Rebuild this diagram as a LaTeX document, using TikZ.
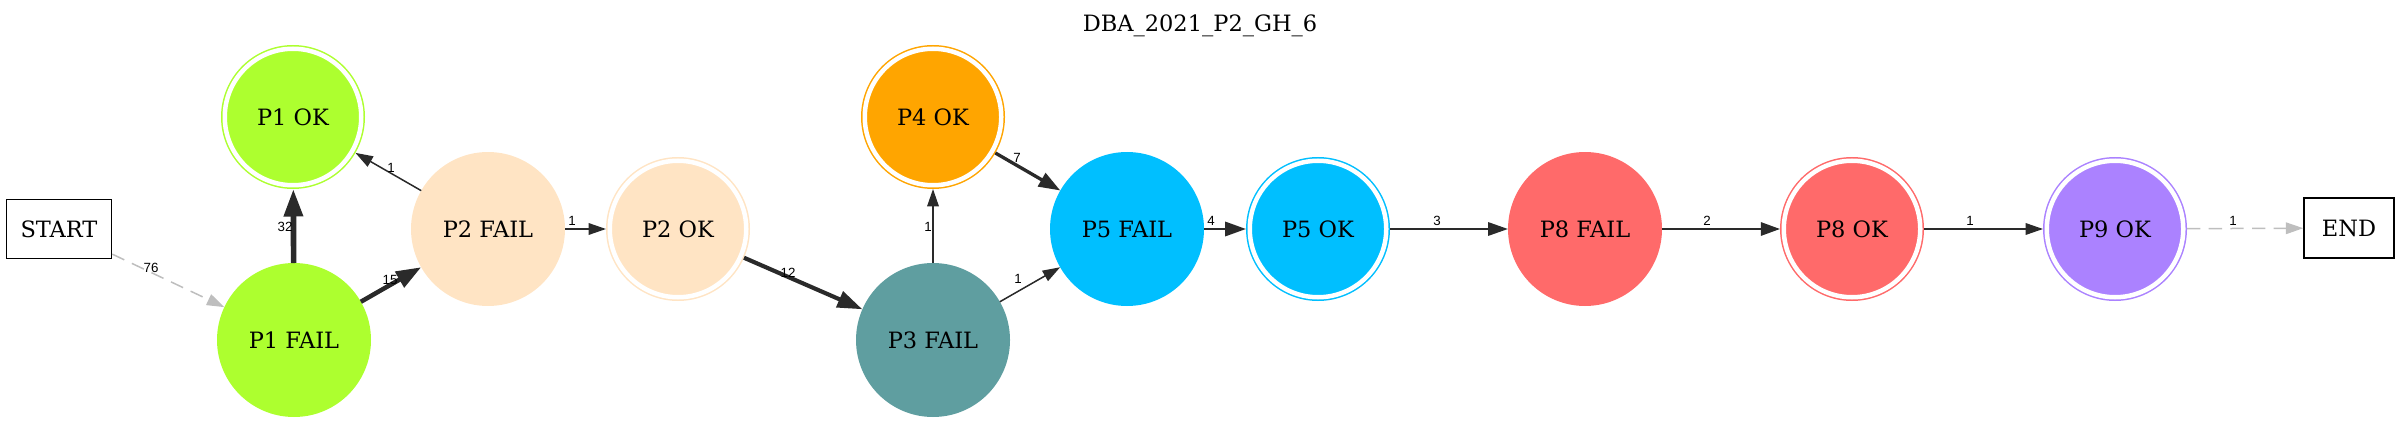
\documentclass[tikz,border=0pt]{standalone}
\usepackage{fontspec}
\setmainfont{DejaVu Serif}
\newfontfamily\lblfont{Liberation Sans}
\usetikzlibrary{arrows.meta}
\definecolor{cGreen}{HTML}{ADFF2F}
\definecolor{cBisque}{HTML}{FFE4C4}
\definecolor{cCadet}{HTML}{5F9EA0}
\definecolor{cOrange}{HTML}{FFA500}
\definecolor{cSky}{HTML}{00BFFF}
\definecolor{cRed}{HTML}{FF6A6A}
\definecolor{cPurple}{HTML}{AB82FF}
\definecolor{edgec}{HTML}{2A2A2A}
\definecolor{grayc}{HTML}{BEBEBE}
\begin{document}
\begin{tikzpicture}[x=0.6pt,y=-0.6pt,
  every node/.style={font=\fontsize{13.5pt}{16pt}\selectfont},
  failnode/.style={circle, fill=#1, draw=none, minimum size=92.4pt, inner sep=0pt, outer sep=0pt},
  oknode/.style={circle, fill=#1, draw=#1, line width=0.9pt, double=white, double distance=2.7pt, minimum size=81.9pt, inner sep=0pt, outer sep=2.25pt},
  termnode/.style={rectangle, draw=black, line width=0.9pt, inner sep=0pt},
  lbl/.style={font=\lblfont\fontsize{8pt}{9pt}\selectfont, inner sep=0pt, text=black},
  wA/.style={draw=edgec, line width=0.9pt, -{Triangle[length=10.5pt,width=7pt]}},
  wB/.style={draw=edgec, line width=1.2pt, -{Triangle[length=11.5pt,width=8pt]}},
  wC/.style={draw=edgec, line width=1.35pt, -{Triangle[length=12pt,width=8pt]}},
  wD/.style={draw=edgec, line width=1.6pt, -{Triangle[length=12.5pt,width=8.5pt]}},
  wG/.style={draw=edgec, line width=2pt, -{Triangle[length=13pt,width=9pt]}},
  wL/.style={draw=edgec, line width=2.5pt, -{Triangle[length=15pt,width=10pt]}},
  wO/.style={draw=edgec, line width=2.7pt, -{Triangle[length=15pt,width=10.5pt]}},
  wZ/.style={draw=edgec, line width=3.4pt, -{Triangle[length=16.5pt,width=11pt]}},
  grayedge/.style={draw=grayc, line width=0.9pt, dash pattern=on 8pt off 5pt, -{Triangle[length=10.5pt,width=7pt]}}
]
\useasboundingbox (0,0) rectangle (2400,424);

\node (title) at (1200,31.5) [anchor=base] {DBA\_2021\_P2\_GH\_6};

\node[termnode, minimum width=63pt, minimum height=35.4pt] (START) at (59,229) {START};
\node[termnode, minimum width=54pt, minimum height=36pt] (END) at (2349,228) {END};

\node[failnode=cGreen] (P1FAIL) at (294,340) {P1 FAIL};
\node[oknode=cGreen] (P1OK) at (293,117) {P1 OK};
\node[failnode=cBisque] (P2FAIL) at (488,229) {P2 FAIL};
\node[oknode=cBisque] (P2OK) at (678,229) {P2 OK};
\node[failnode=cCadet] (P3FAIL) at (933,340) {P3 FAIL};
\node[oknode=cOrange] (P4OK) at (933,117) {P4 OK};
\node[failnode=cSky] (P5FAIL) at (1127,229) {P5 FAIL};
\node[oknode=cSky] (P5OK) at (1318,229) {P5 OK};
\node[failnode=cRed] (P8FAIL) at (1585,229) {P8 FAIL};
\node[oknode=cRed] (P8OK) at (1852,229) {P8 OK};
\node[oknode=cPurple] (P9OK) at (2115,229) {P9 OK};

\draw[grayedge] (START) -- (P1FAIL);
\draw[wZ] (P1FAIL) -- (P1OK);
\draw[wO] (P1FAIL) -- (P2FAIL);
\draw[wA] (P2FAIL) -- (P1OK);
\draw[wA] (P2FAIL) -- (P2OK);
\draw[wL] (P2OK) -- (P3FAIL);
\draw[wA] (P3FAIL) -- (P4OK);
\draw[wG] (P4OK) -- (P5FAIL);
\draw[wA] (P3FAIL) -- (P5FAIL);
\draw[wD] (P5FAIL) -- (P5OK);
\draw[wC] (P5OK) -- (P8FAIL);
\draw[wB] (P8FAIL) -- (P8OK);
\draw[wA] (P8OK) -- (P9OK);
\draw[grayedge] (P9OK) -- (END);

\node[lbl] (l76) at (151,268) {76};
\node[lbl] (l32) at (285,227) {32};
\node[lbl] (l15) at (390,280) {15};
\node[lbl] (l1a) at (391,168) {1};
\node[lbl] (l1b) at (572,221) {1};
\node[lbl] (l12) at (788,273) {12};
\node[lbl] (l1c) at (928,227) {1};
\node[lbl] (l7) at (1017,158) {7};
\node[lbl] (l1d) at (1018,279) {1};
\node[lbl] (l4) at (1211,221) {4};
\node[lbl] (l3) at (1437,221) {3};
\node[lbl] (l2) at (1707,221) {2};
\node[lbl] (l1e) at (1970,221) {1};
\node[lbl] (l1f) at (2233,221) {1};
\end{tikzpicture}
\end{document}
